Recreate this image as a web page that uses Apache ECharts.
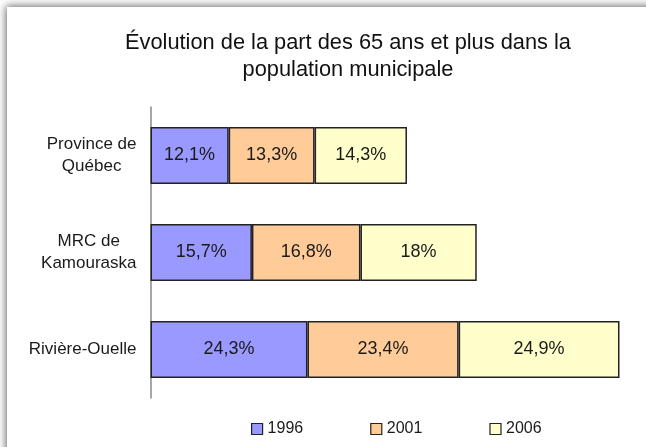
<!DOCTYPE html>
<html>
<head>
<meta charset="utf-8">
<script src="https://cdn.jsdelivr.net/npm/echarts@6/dist/echarts.min.js"></script>
<style>
html,body{margin:0;padding:0;background:#fff;overflow:hidden;}
#frame{position:absolute;left:7px;top:7px;width:700px;height:500px;background:#fff;box-shadow:0 0 8px 1px rgba(0,0,0,0.6);z-index:0;}
#chart{position:absolute;left:0;top:0;width:646px;height:447px;z-index:1;}
</style>
</head>
<body>
<div id="frame"></div>
<div id="chart"></div>
<script>
var titleText = 'Évolution de la part des 65 ans et plus dans la\npopulation municipale';
var categories = ['Province de\nQuébec', 'MRC de\nKamouraska', 'Rivière-Ouelle'];
var years = ['1996', '2001', '2006'];
var values1996 = [12.1, 15.7, 24.3];
var values2001 = [13.3, 16.8, 23.4];
var values2006 = [14.3, 18.0, 24.9];
var colors = ['#9999FF', '#FFCC99', '#FFFFCC'];

var font = '"Liberation Sans", Arial, sans-serif';
var allValues = [values1996, values2001, values2006];

var chart = echarts.init(document.getElementById('chart'), null, {renderer: 'canvas'});

function fmt(v) {
  return String(v).replace('.', ',') + '%';
}

var series = years.map(function (y, i) {
  return {
    name: y,
    type: 'bar',
    stack: 'total',
    barCategoryGap: '41%',
    data: allValues[i],
    itemStyle: {color: colors[i], borderColor: '#222', borderWidth: 1.5},
    label: {
      show: true,
      position: 'inside',
      color: '#1a1a1a',
      fontFamily: font,
      fontSize: 18,
      formatter: function (p) { return fmt(p.value); }
    },
    emphasis: {disabled: true}
  };
});

chart.setOption({
  backgroundColor: 'transparent',
  animation: false,
  title: {
    text: titleText,
    left: 343,
    top: 24,
    textAlign: 'center',
    textStyle: {fontFamily: font, fontSize: 21.8, fontWeight: 'normal', color: '#111', lineHeight: 27}
  },
  legend: {
    data: years,
    left: 246,
    top: 416,
    itemWidth: 11,
    itemHeight: 11,
    itemGap: 67,
    icon: 'rect',
    itemStyle: {borderColor: '#222', borderWidth: 1.2},
    textStyle: {fontFamily: font, fontSize: 16, color: '#1a1a1a'}
  },
  grid: {left: 150.5, right: 11, top: 107, bottom: 49, containLabel: false},
  xAxis: {
    type: 'value',
    min: 0,
    max: 75,
    show: false
  },
  yAxis: {
    type: 'category',
    inverse: true,
    data: categories,
    axisLine: {show: true, lineStyle: {color: '#888', width: 1.5}},
    axisTick: {show: false},
    axisLabel: {
      margin: 14,
      align: 'right',
      fontFamily: font,
      fontSize: 17,
      color: '#1a1a1a',
      lineHeight: 22,
      formatter: function (v) {
        return v.split('\n').map(function (s) { return '{c|' + s + '}'; }).join('\n');
      },
      rich: {c: {align: 'center', fontFamily: font, fontSize: 17, color: '#1a1a1a', lineHeight: 22}}
    }
  },
  series: series
});
</script>
</body>
</html>
